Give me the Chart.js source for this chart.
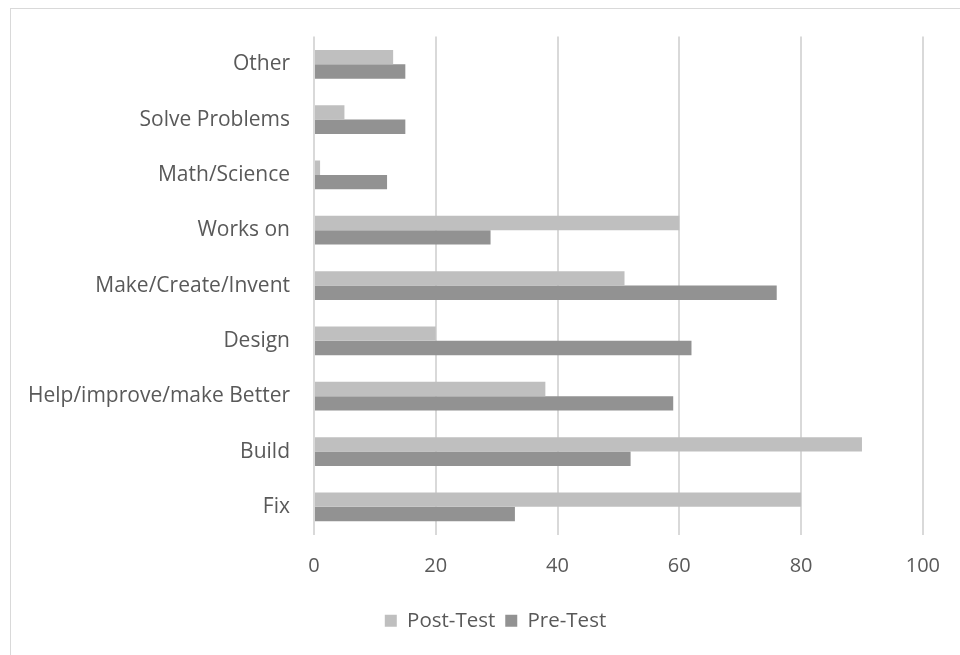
<!DOCTYPE html>
<html>
<head>
<meta charset="utf-8">
<script src="https://cdn.jsdelivr.net/npm/chart.js@4.4.0/dist/chart.umd.min.js"></script>
<style>
  html, body { margin: 0; padding: 0; background: #fff; }
  #wrap { position: relative; width: 960px; height: 655px; overflow: hidden; }
  #frame { position: absolute; left: 10px; top: 8px; width: 1000px; height: 700px; border: 1px solid #d9d9d9; box-sizing: border-box; }
  #c { position: absolute; left: 0; top: 0; }
</style>
</head>
<body>
<div id="wrap">
  <div id="frame"></div>
  <canvas id="c" width="960" height="655"></canvas>
</div>
<script>
const categories = ["Other", "Solve Problems", "Math/Science", "Works on", "Make/Create/Invent", "Design", "Help/improve/make Better", "Build", "Fix"];
const postTest = [13, 5, 1, 60, 51, 20, 38, 90, 80];
const preTest = [15, 15, 12, 29, 76, 62, 59, 52, 33];
const seriesNames = ["Post-Test", "Pre-Test"];
const xTicks = [0, 20, 40, 60, 80, 100];

const FONT = "'Open Sans', Lato, sans-serif";
const TXT = "#595959";

const shiftLegend = {
  id: "shiftLegend",
  afterLayout(chart) {
    if (chart.legend) { chart.legend.left += 34; chart.legend.right += 34; }
  }
};

new Chart(document.getElementById("c"), {
  type: "bar",
  data: {
    labels: categories,
    datasets: [
      { label: seriesNames[0], data: postTest, backgroundColor: "#bfbfbf", borderWidth: 0, categoryPercentage: 0.52, barPercentage: 1.0 },
      { label: seriesNames[1], data: preTest, backgroundColor: "#929292", borderWidth: 0, categoryPercentage: 0.52, barPercentage: 1.0 }
    ]
  },
  plugins: [shiftLegend],
  options: {
    indexAxis: "y",
    responsive: false,
    animation: false,
    devicePixelRatio: 1,
    layout: { padding: { top: 35, right: 37, left: 0, bottom: 14 } },
    plugins: {
      tooltip: { enabled: false },
      legend: {
        position: "bottom",
        labels: {
          font: { family: FONT, size: 20.5 },
          color: TXT,
          boxWidth: 12,
          boxHeight: 12,
          padding: 10
        }
      }
    },
    scales: {
      x: {
        min: 0, max: 100,
        afterBuildTicks: (s) => { s.ticks = xTicks.map(v => ({ value: v })); },
        grid: { color: "#d9d9d9", lineWidth: 2, drawTicks: false },
        border: { display: false },
        ticks: { font: { family: FONT, size: 20 }, color: TXT, padding: 20 },
        afterFit: (s) => { s.height = 66; }
      },
      y: {
        grid: { display: false, drawTicks: false },
        border: { display: false },
        ticks: { font: { family: FONT, size: 21 }, color: TXT, padding: 24 },
        afterFit: (s) => { s.width = 314; }
      }
    }
  }
});
</script>
</body>
</html>
